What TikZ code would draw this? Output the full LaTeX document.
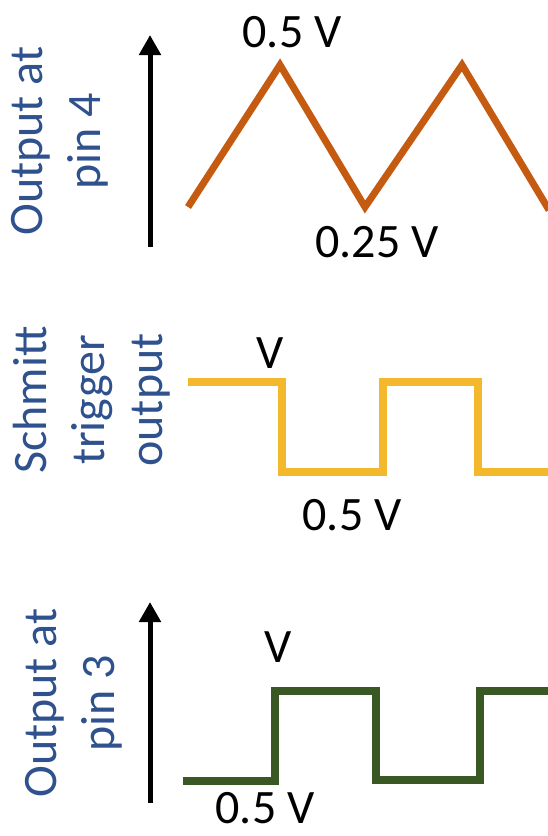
\documentclass[tikz,border=0pt]{standalone}
\usepackage{fontspec}
\setmainfont{Carlito}
\usetikzlibrary{arrows.meta}
\definecolor{lblblue}{RGB}{47,82,143}
\definecolor{worange}{RGB}{197,90,17}
\definecolor{wyellow}{RGB}{244,184,44}
\definecolor{wgreen}{RGB}{58,88,36}
\tikzset{
  axislabel/.style={rotate=90, align=center, text=lblblue, inner sep=0pt,
    font=\fontsize{48}{58}\selectfont},
  vallabel/.style={anchor=base, inner sep=0pt, text=black,
    font=\fontsize{48}{58}\selectfont},
  axisarrow/.style={line width=5pt, -{Triangle[width=21pt,length=20pt]}},
  wave/.style={line width=8pt, line join=miter}
}
\begin{document}
\begin{tikzpicture}[x=1pt,y=-1pt]
\useasboundingbox (0,0) rectangle (547,836);
\fill[white] (0,0) rectangle (547,836);

% ---------- panel 1 ----------
\node[axislabel] (lab1) at (60,141) {Output at\\pin 4};
\coordinate (a1s) at (150,247);
\coordinate (a1e) at (150,35);
\draw[axisarrow] (a1s) -- (a1e);
\draw[wave, worange, line width=7pt] (188,207) -- (280,65) -- (365,207) -- (462,65) -- (549,210);
\node[vallabel] (v1a) at (292,47) {0.5 V};
\node[vallabel] (v1b) at (377,257) {0.25 V};

% ---------- panel 2 ----------
\node[axislabel] (lab2) at (92,400) {Schmitt\\trigger\\output};
\draw[wave, wyellow] (188,382) -- (282,382) -- (282,472) -- (383,472) -- (383,382) -- (478,382) -- (478,472) -- (549,472);
\node[vallabel] (v2a) at (270,368) {V};
\node[vallabel] (v2b) at (352,530) {0.5 V};

% ---------- panel 3 ----------
\node[axislabel] (lab3) at (74,703) {Output at\\pin 3};
\coordinate (a3s) at (150,803);
\coordinate (a3e) at (150,602);
\draw[axisarrow] (a3s) -- (a3e);
\draw[wave, wgreen] (183,781) -- (275,781) -- (275,691) -- (376,691) -- (376,780) -- (480,780) -- (480,691) -- (549,691);
\node[vallabel] (v3a) at (278,662) {V};
\node[vallabel] (v3b) at (265,823) {0.5 V};
\end{tikzpicture}
\end{document}
